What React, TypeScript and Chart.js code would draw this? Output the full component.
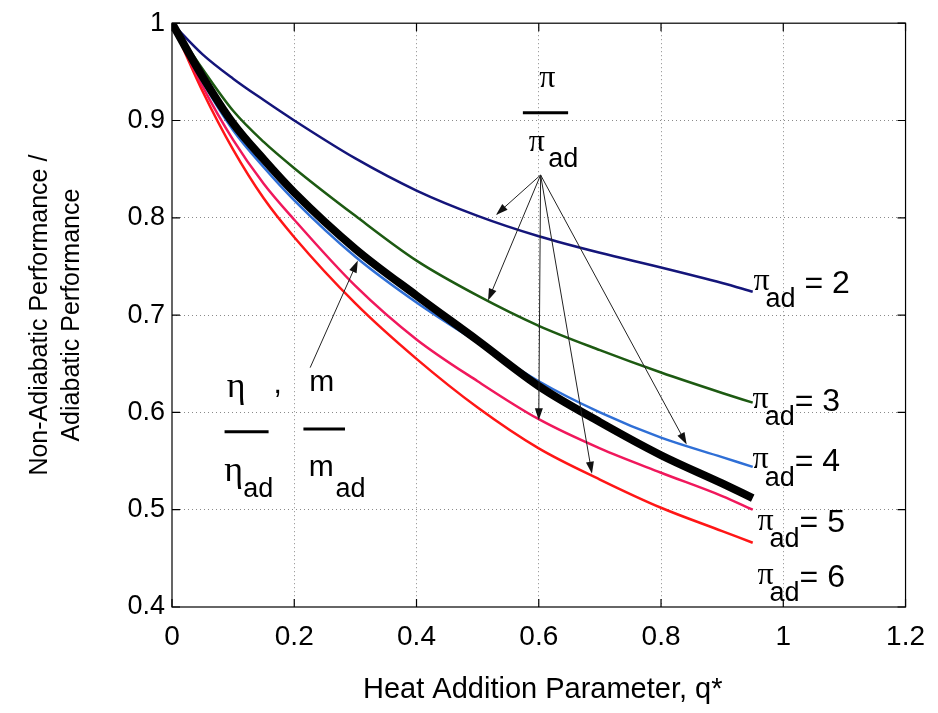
import React, { useEffect, useRef } from 'react';
import { Chart, registerables } from 'chart.js';

Chart.register(...registerables);

// Heat addition parameter q*
const qStar = [0, 0.05, 0.1, 0.15, 0.2, 0.3, 0.4, 0.5, 0.6, 0.7, 0.8, 0.9, 0.95];

// pi / pi_ad curves for each adiabatic pressure ratio
const piAd2 = [1, 0.968, 0.943, 0.921, 0.9, 0.861, 0.828, 0.802, 0.781, 0.764, 0.749, 0.733, 0.724];
const piAd3 = [1, 0.953, 0.91, 0.878, 0.851, 0.802, 0.756, 0.72, 0.689, 0.664, 0.641, 0.62, 0.61];
const piAd4 = [1, 0.94, 0.89, 0.852, 0.818, 0.76, 0.713, 0.672, 0.632, 0.6, 0.574, 0.554, 0.544];
const piAd5 = [1, 0.935, 0.88, 0.835, 0.798, 0.73, 0.675, 0.632, 0.593, 0.563, 0.538, 0.514, 0.5];
const piAd6 = [1, 0.93, 0.87, 0.82, 0.78, 0.712, 0.655, 0.605, 0.563, 0.531, 0.502, 0.478, 0.466];
// eta / eta_ad , m / m_ad (thick black)
const etaRatio = [1, 0.945, 0.897, 0.86, 0.826, 0.768, 0.72, 0.674, 0.627, 0.59, 0.556, 0.527, 0.512];

const seriesNames = ['pi_ad=2', 'pi_ad=3', 'pi_ad=4', 'pi_ad=5', 'pi_ad=6', 'eta/eta_ad, m/m_ad'];
const seriesColors = ['#14157a', '#1d5a12', '#2f6fd6', '#f0185c', '#ff1616', '#000000'];
const seriesWidths = [2.5, 2.5, 2.5, 2.5, 2.5, 8];

const xTickValues = [0, 0.2, 0.4, 0.6, 0.8, 1, 1.2];
const xTickLabels = ['0', '0.2', '0.4', '0.6', '0.8', '1', '1.2'];
const yTickValues = [0.4, 0.5, 0.6, 0.7, 0.8, 0.9, 1];
const yTickLabels = ['0.4', '0.5', '0.6', '0.7', '0.8', '0.9', '1'];

const xTitle = 'Heat Addition Parameter, q*';
const yTitleLines = ['Non-Adiabatic Performance /', 'Adiabatic Performance'];

// Curve labels: anchor of the pi glyph in data coordinates
const curveLabelNums = ['2', '3', '4', '5', '6'];
const curveLabelX = [0.9645, 0.963, 0.963, 0.971, 0.971];
const curveLabelY = [0.734, 0.613, 0.551, 0.488, 0.432];

// Arrow annotations (data coordinates)
const piArrowOrigin = [0.603, 0.844];
const piArrowTipsX = [0.53, 0.517, 0.6, 0.687, 0.842];
const piArrowTipsY = [0.803, 0.715, 0.592, 0.537, 0.567];
const etaArrowTail = [0.226, 0.646];
const etaArrowTip = [0.304, 0.756];

const SANS = '"Liberation Sans", Arial, Helvetica, sans-serif';
const SERIF = '"Liberation Serif", "DejaVu Serif", serif';

function drawArrow(ctx: CanvasRenderingContext2D, x1: number, y1: number, x2: number, y2: number) {
  const ang = Math.atan2(y2 - y1, x2 - x1);
  const len = 12;
  const half = 4;
  ctx.beginPath();
  ctx.moveTo(x1, y1);
  ctx.lineTo(x2 - Math.cos(ang) * len * 0.8, y2 - Math.sin(ang) * len * 0.8);
  ctx.stroke();
  ctx.beginPath();
  ctx.moveTo(x2, y2);
  ctx.lineTo(x2 - Math.cos(ang) * len - Math.sin(ang) * half, y2 - Math.sin(ang) * len + Math.cos(ang) * half);
  ctx.lineTo(x2 - Math.cos(ang) * len + Math.sin(ang) * half, y2 - Math.sin(ang) * len - Math.cos(ang) * half);
  ctx.closePath();
  ctx.fill();
}

const framePlugin = {
  id: 'frameAndNotes',
  afterDatasetsDraw(chart: any) {
    const ctx: CanvasRenderingContext2D = chart.ctx;
    const { left, right, top, bottom } = chart.chartArea;
    const xs = chart.scales.x;
    const ys = chart.scales.y;
    const X = (v: number) => xs.getPixelForValue(v);
    const Y = (v: number) => ys.getPixelForValue(v);
    ctx.save();
    // box
    ctx.strokeStyle = '#000';
    ctx.lineWidth = 1.2;
    ctx.strokeRect(left, top, right - left, bottom - top);
    // inward ticks
    const tl = 8;
    ctx.beginPath();
    xTickValues.forEach((v) => {
      const px = X(v);
      ctx.moveTo(px, bottom);
      ctx.lineTo(px, bottom - tl);
      ctx.moveTo(px, top);
      ctx.lineTo(px, top + tl);
    });
    yTickValues.forEach((v) => {
      const py = Y(v);
      ctx.moveTo(left, py);
      ctx.lineTo(left + tl, py);
      ctx.moveTo(right, py);
      ctx.lineTo(right - tl, py);
    });
    ctx.stroke();

    // curve labels
    ctx.fillStyle = '#000';
    ctx.textBaseline = 'middle';
    curveLabelNums.forEach((n, i) => {
      const px = X(curveLabelX[i]);
      const py = Y(curveLabelY[i]);
      ctx.font = `32px ${SERIF}`;
      ctx.textAlign = 'center';
      ctx.fillText('π', px, py);
      ctx.textAlign = 'left';
      ctx.font = `27px ${SANS}`;
      ctx.fillText('ad', px + 4, py + 18);
      const adW = ctx.measureText('ad').width;
      ctx.font = `32px ${SANS}`;
      ctx.fillText(i === 0 ? ' = ' + n : '= ' + n, px + 4 + adW, py + 2);
    });

    // pi / pi_ad fraction
    ctx.textAlign = 'center';
    ctx.font = `32px ${SERIF}`;
    ctx.fillText('π', X(0.614), Y(0.943));
    ctx.lineWidth = 3;
    ctx.beginPath();
    ctx.moveTo(X(0.574), Y(0.908));
    ctx.lineTo(X(0.648), Y(0.908));
    ctx.stroke();
    ctx.fillText('π', X(0.597), Y(0.877));
    ctx.font = `27px ${SANS}`;
    ctx.fillText('ad', X(0.64), Y(0.86));

    // eta / eta_ad , m / m_ad
    ctx.font = `36px ${SERIF}`;
    ctx.fillText('η', X(0.105), Y(0.626));
    ctx.font = `30px ${SANS}`;
    ctx.fillText(',', X(0.173), Y(0.628));
    ctx.fillText('m', X(0.245), Y(0.63));
    ctx.beginPath();
    ctx.moveTo(X(0.086), Y(0.58));
    ctx.lineTo(X(0.158), Y(0.58));
    ctx.moveTo(X(0.215), Y(0.583));
    ctx.lineTo(X(0.283), Y(0.583));
    ctx.stroke();
    ctx.font = `36px ${SERIF}`;
    ctx.fillText('η', X(0.101), Y(0.539));
    ctx.font = `30px ${SANS}`;
    ctx.fillText('m', X(0.244), Y(0.543));
    ctx.font = `27px ${SANS}`;
    ctx.fillText('ad', X(0.141), Y(0.521));
    ctx.fillText('ad', X(0.292), Y(0.521));

    // arrows
    ctx.lineWidth = 1;
    ctx.strokeStyle = '#222';
    ctx.fillStyle = '#111';
    piArrowTipsX.forEach((tx, i) => {
      drawArrow(ctx, X(piArrowOrigin[0]), Y(piArrowOrigin[1]), X(tx), Y(piArrowTipsY[i]));
    });
    drawArrow(ctx, X(etaArrowTail[0]), Y(etaArrowTail[1]), X(etaArrowTip[0]), Y(etaArrowTip[1]));

    // axis titles
    ctx.fillStyle = '#000';
    ctx.font = `29px ${SANS}`;
    ctx.textAlign = 'center';
    ctx.fillText(xTitle, (left + right) / 2 + 4, bottom + 83);
    ctx.font = `25px ${SANS}`;
    const cy = (top + bottom) / 2;
    ctx.translate(40, cy);
    ctx.rotate(-Math.PI / 2);
    ctx.fillText(yTitleLines[0], 0, 0);
    ctx.fillText(yTitleLines[1], 0, 32);
    ctx.restore();
  },
};

export default function App() {
  const canvasRef = useRef<HTMLCanvasElement | null>(null);

  useEffect(() => {
    if (!canvasRef.current) return;
    const datasets = [piAd2, piAd3, piAd4, piAd5, piAd6, etaRatio].map((vals, i) => ({
      label: seriesNames[i],
      data: qStar.map((q, j) => ({ x: q, y: vals[j] })),
      borderColor: seriesColors[i],
      backgroundColor: seriesColors[i],
      borderWidth: seriesWidths[i],
      pointRadius: 0,
      cubicInterpolationMode: 'monotone' as const,
      fill: false,
      order: i === 5 ? 0 : 1,
    }));

    const gridColor = (ctx: any) => {
      const v = ctx.tick ? ctx.tick.value : null;
      return v === null ? 'transparent' : '#8a8a8a';
    };

    const chart = new Chart(canvasRef.current, {
      type: 'line',
      data: { datasets },
      plugins: [framePlugin],
      options: {
        animation: false,
        responsive: false,
        maintainAspectRatio: false,
        layout: { padding: { top: 16, right: 24, left: 0, bottom: 0 } },
        plugins: { legend: { display: false }, tooltip: { enabled: false } },
        scales: {
          x: {
            type: 'linear',
            min: 0,
            max: 1.2,
            afterBuildTicks: (s: any) => {
              s.ticks = xTickValues.map((v) => ({ value: v }));
            },
            afterFit: (s: any) => {
              s.height = 106;
            },
            ticks: {
              autoSkip: false,
              maxRotation: 0,
              padding: 13,
              color: '#000',
              font: { family: SANS, size: 28 },
              callback: (_v: any, i: number) => xTickLabels[i],
            },
            grid: {
              drawTicks: false,
              lineWidth: 1,
              color: (c: any) => (c.tick && (c.tick.value === 0 || c.tick.value === 1.2) ? 'transparent' : gridColor(c)),
            },
            border: { display: false, dash: [1, 3] },
          },
          y: {
            type: 'linear',
            min: 0.4,
            max: 1,
            afterBuildTicks: (s: any) => {
              s.ticks = yTickValues.map((v) => ({ value: v }));
            },
            afterFit: (s: any) => {
              s.width = 172;
            },
            ticks: {
              autoSkip: false,
              padding: 7,
              color: '#000',
              font: { family: SANS, size: 27 },
              callback: (_v: any, i: number) => yTickLabels[i],
            },
            grid: {
              drawTicks: false,
              lineWidth: 1,
              color: (c: any) => (c.tick && (Math.abs(c.tick.value - 0.4) < 1e-9 || Math.abs(c.tick.value - 1) < 1e-9) ? 'transparent' : gridColor(c)),
            },
            border: { display: false, dash: [1, 3] },
          },
        },
      } as any,
    });
    return () => chart.destroy();
  }, []);

  return (
    <div style={{ position: 'absolute', left: 0, top: 0, width: 938, height: 713, background: '#fff' }}>
      <canvas ref={canvasRef} width={938} height={713} style={{ display: 'block' }} />
    </div>
  );
}
